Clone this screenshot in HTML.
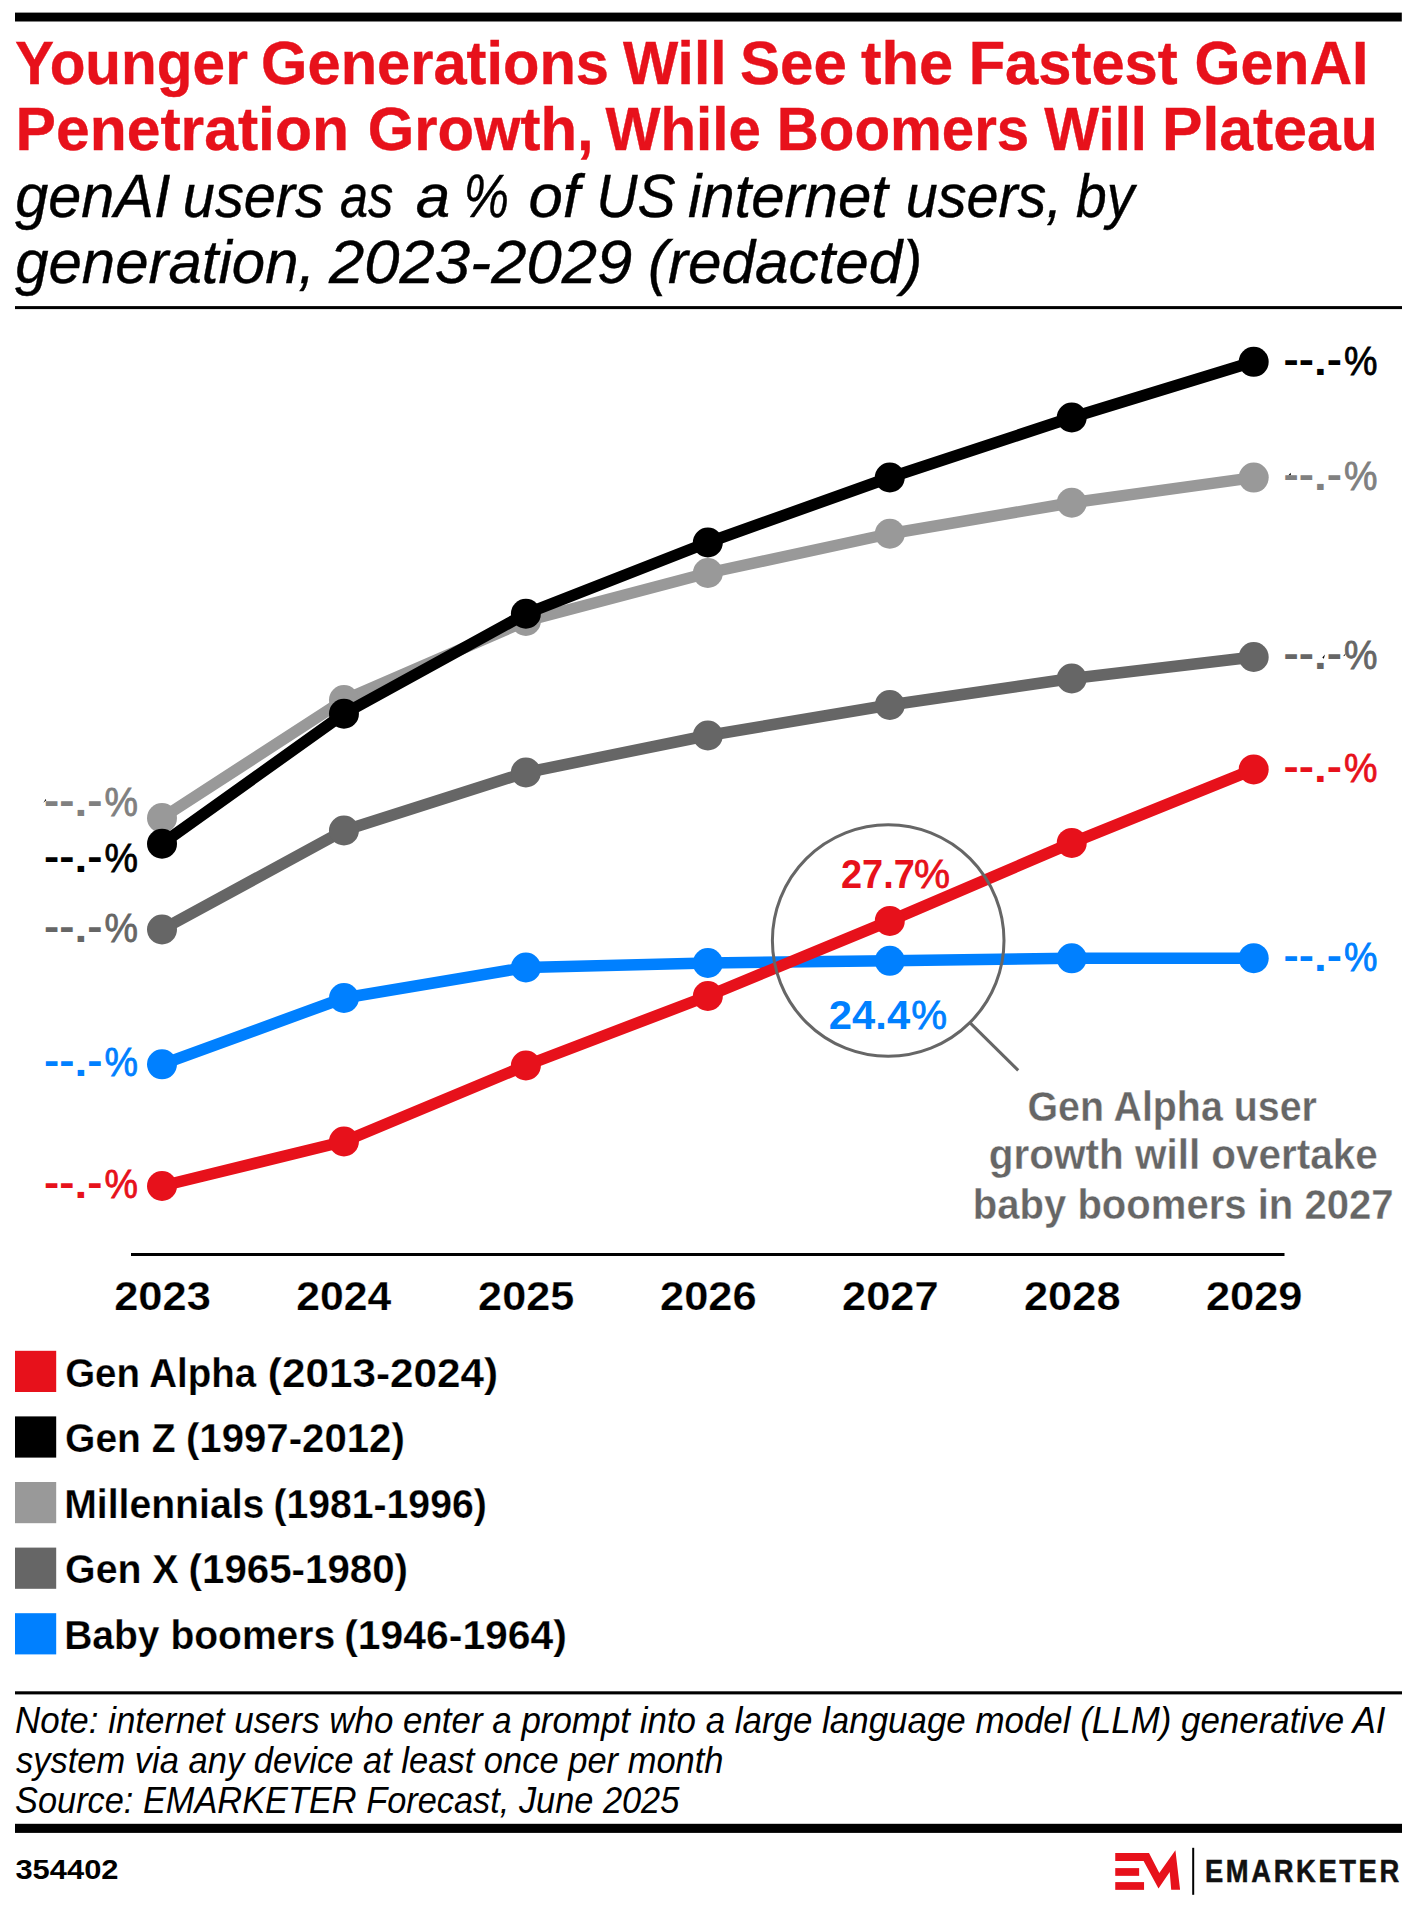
<!DOCTYPE html>
<html lang="en"><head><meta charset="utf-8"><title>Younger Generations Will See the Fastest GenAI Penetration Growth</title>
<style>
html,body{margin:0;padding:0;background:#fff;}
body{width:1416px;height:1909px;overflow:hidden;}
svg{display:block;font-family:"Liberation Sans", sans-serif;}
text{white-space:pre;}
</style></head><body>
<svg width="1416" height="1909" viewBox="0 0 1416 1909">
<rect width="1416" height="1909" fill="#fff"/>
<rect x="15" y="12.6" width="1386.8" height="8.9" fill="#000"/>
<rect x="15" y="306.1" width="1387" height="3" fill="#000"/>
<polyline points="162.00,1064.30 343.95,998.00 525.90,967.50 707.85,963.00 889.80,960.80 1071.75,958.30 1253.70,958.20" fill="none" stroke="#0080FF" stroke-width="11.5" stroke-linejoin="round" stroke-linecap="round"/>
<circle cx="162.00" cy="1064.30" r="15" fill="#0080FF"/>
<circle cx="343.95" cy="998.00" r="15" fill="#0080FF"/>
<circle cx="525.90" cy="967.50" r="15" fill="#0080FF"/>
<circle cx="707.85" cy="963.00" r="15" fill="#0080FF"/>
<circle cx="889.80" cy="960.80" r="15" fill="#0080FF"/>
<circle cx="1071.75" cy="958.30" r="15" fill="#0080FF"/>
<circle cx="1253.70" cy="958.20" r="15" fill="#0080FF"/>
<polyline points="162.00,929.50 343.95,830.50 525.90,772.50 707.85,735.50 889.80,705.00 1071.75,678.50 1253.70,657.00" fill="none" stroke="#666666" stroke-width="11.5" stroke-linejoin="round" stroke-linecap="round"/>
<circle cx="162.00" cy="929.50" r="15" fill="#666666"/>
<circle cx="343.95" cy="830.50" r="15" fill="#666666"/>
<circle cx="525.90" cy="772.50" r="15" fill="#666666"/>
<circle cx="707.85" cy="735.50" r="15" fill="#666666"/>
<circle cx="889.80" cy="705.00" r="15" fill="#666666"/>
<circle cx="1071.75" cy="678.50" r="15" fill="#666666"/>
<circle cx="1253.70" cy="657.00" r="15" fill="#666666"/>
<polyline points="162.00,818.00 343.95,700.00 525.90,621.00 707.85,573.00 889.80,533.75 1071.75,502.75 1253.70,477.60" fill="none" stroke="#999999" stroke-width="11.5" stroke-linejoin="round" stroke-linecap="round"/>
<circle cx="162.00" cy="818.00" r="15" fill="#999999"/>
<circle cx="343.95" cy="700.00" r="15" fill="#999999"/>
<circle cx="525.90" cy="621.00" r="15" fill="#999999"/>
<circle cx="707.85" cy="573.00" r="15" fill="#999999"/>
<circle cx="889.80" cy="533.75" r="15" fill="#999999"/>
<circle cx="1071.75" cy="502.75" r="15" fill="#999999"/>
<circle cx="1253.70" cy="477.60" r="15" fill="#999999"/>
<polyline points="162.00,843.75 343.95,713.75 525.90,613.75 707.85,542.50 889.80,477.50 1071.75,417.50 1253.70,361.80" fill="none" stroke="#000000" stroke-width="11.5" stroke-linejoin="round" stroke-linecap="round"/>
<circle cx="162.00" cy="843.75" r="15" fill="#000000"/>
<circle cx="343.95" cy="713.75" r="15" fill="#000000"/>
<circle cx="525.90" cy="613.75" r="15" fill="#000000"/>
<circle cx="707.85" cy="542.50" r="15" fill="#000000"/>
<circle cx="889.80" cy="477.50" r="15" fill="#000000"/>
<circle cx="1071.75" cy="417.50" r="15" fill="#000000"/>
<circle cx="1253.70" cy="361.80" r="15" fill="#000000"/>
<polyline points="162.00,1186.00 343.95,1141.50 525.90,1065.50 707.85,996.00 889.80,920.90 1071.75,842.90 1253.70,769.40" fill="none" stroke="#E7111B" stroke-width="11.5" stroke-linejoin="round" stroke-linecap="round"/>
<circle cx="162.00" cy="1186.00" r="15" fill="#E7111B"/>
<circle cx="343.95" cy="1141.50" r="15" fill="#E7111B"/>
<circle cx="525.90" cy="1065.50" r="15" fill="#E7111B"/>
<circle cx="707.85" cy="996.00" r="15" fill="#E7111B"/>
<circle cx="889.80" cy="920.90" r="15" fill="#E7111B"/>
<circle cx="1071.75" cy="842.90" r="15" fill="#E7111B"/>
<circle cx="1253.70" cy="769.40" r="15" fill="#E7111B"/>
<circle cx="888.2" cy="940.5" r="115.8" fill="none" stroke="#666" stroke-width="3"/>
<line x1="969.6" y1="1022.4" x2="1018.2" y2="1070.4" stroke="#666" stroke-width="3"/>
<rect x="131" y="1253" width="1153.5" height="3" fill="#000"/>
<rect x="15" y="1350.8" width="41.2" height="41.2" fill="#E7111B"/>
<rect x="15" y="1416.4" width="41.2" height="41.2" fill="#000000"/>
<rect x="15" y="1482.0" width="41.2" height="41.2" fill="#999999"/>
<rect x="15" y="1547.6" width="41.2" height="41.2" fill="#666666"/>
<rect x="15" y="1613.2" width="41.2" height="41.2" fill="#0080FF"/>
<rect x="15" y="1691.3" width="1387" height="3.1" fill="#000"/>
<rect x="15" y="1823.8" width="1387" height="9.1" fill="#000"/>
<path d="M1115.25 1853.1H1149L1159.3 1873L1175.4 1850.2L1180.1 1889.8H1171.2L1169.7 1872L1158.5 1888.5L1143.6 1861H1115.25Z" fill="#E7111B"/>
<rect x="1115.25" y="1868.1" width="23.9" height="7.75" fill="#E7111B"/>
<rect x="1115.25" y="1882.1" width="28.8" height="7.75" fill="#E7111B"/>
<rect x="1192.2" y="1847.8" width="2" height="47" fill="#000"/>
<path d="M1322.3 657.6L1325 654.4L1323.8 658.8Z" fill="#000"/>
<path d="M1343 656.3L1346.2 652.7L1345 655.6Z" fill="#000"/>
<path d="M1288.3 475.6L1290.6 472.8L1290.9 475.2Z" fill="#000"/>
<path d="M43.4 802.8L45.6 798.9L46.3 800.2Z" fill="#000"/>
<path d="M1345.2 954L1348.4 957.6L1346.8 958.2Z" fill="#000"/>
<text font-size="40.3" fill="#000"><tspan x="65.14" y="1386.60" textLength="201.72" lengthAdjust="spacingAndGlyphs" font-weight="bold" stroke="#fff" stroke-width="0.25">Gen Alpha </tspan><tspan x="267.88" y="1386.60" textLength="230.11" lengthAdjust="spacingAndGlyphs" font-weight="bold" stroke="#fff" stroke-width="0.25">(2013-2024)</tspan></text>
<text font-size="40.3" fill="#000"><tspan x="65.12" y="1452.20" textLength="121.30" lengthAdjust="spacingAndGlyphs" font-weight="bold" stroke="#fff" stroke-width="0.25">Gen Z </tspan><tspan x="185.98" y="1452.20" textLength="218.80" lengthAdjust="spacingAndGlyphs" font-weight="bold" stroke="#fff" stroke-width="0.25">(1997-2012)</tspan></text>
<text font-size="40.3" fill="#000"><tspan x="64.14" y="1517.80" textLength="211.14" lengthAdjust="spacingAndGlyphs" font-weight="bold" stroke="#fff" stroke-width="0.25">Millennials </tspan><tspan x="273.43" y="1517.80" textLength="213.30" lengthAdjust="spacingAndGlyphs" font-weight="bold" stroke="#fff" stroke-width="0.25">(1981-1996)</tspan></text>
<text font-size="40.3" fill="#000"><tspan x="65.11" y="1583.40" textLength="124.35" lengthAdjust="spacingAndGlyphs" font-weight="bold" stroke="#fff" stroke-width="0.25">Gen X </tspan><tspan x="188.58" y="1583.40" textLength="219.41" lengthAdjust="spacingAndGlyphs" font-weight="bold" stroke="#fff" stroke-width="0.25">(1965-1980)</tspan></text>
<text font-size="40.3" fill="#000"><tspan x="64.15" y="1649.00" textLength="281.90" lengthAdjust="spacingAndGlyphs" font-weight="bold" stroke="#fff" stroke-width="0.25">Baby boomers </tspan><tspan x="344.25" y="1649.00" textLength="222.67" lengthAdjust="spacingAndGlyphs" font-weight="bold" stroke="#fff" stroke-width="0.25">(1946-1964)</tspan></text>
<text font-size="62" fill="#E7111B"><tspan x="14.96" y="84.20" textLength="249.20" lengthAdjust="spacingAndGlyphs" font-weight="bold" stroke="#E7111B" stroke-width="0.4">Younger </tspan><tspan x="261.10" y="84.20" textLength="364.46" lengthAdjust="spacingAndGlyphs" font-weight="bold" stroke="#E7111B" stroke-width="0.4">Generations </tspan><tspan x="622.90" y="84.20" textLength="119.79" lengthAdjust="spacingAndGlyphs" font-weight="bold" stroke="#E7111B" stroke-width="0.4">Will </tspan><tspan x="740.05" y="84.20" textLength="123.49" lengthAdjust="spacingAndGlyphs" font-weight="bold" stroke="#E7111B" stroke-width="0.4">See </tspan><tspan x="861.00" y="84.20" textLength="109.14" lengthAdjust="spacingAndGlyphs" font-weight="bold" stroke="#E7111B" stroke-width="0.4">the </tspan><tspan x="968.65" y="84.20" textLength="225.62" lengthAdjust="spacingAndGlyphs" font-weight="bold" stroke="#E7111B" stroke-width="0.4">Fastest </tspan><tspan x="1194.52" y="84.20" textLength="173.98" lengthAdjust="spacingAndGlyphs" font-weight="bold" stroke="#E7111B" stroke-width="0.4">GenAI</tspan></text>
<text font-size="62" fill="#E7111B"><tspan x="15.59" y="150.20" textLength="350.24" lengthAdjust="spacingAndGlyphs" font-weight="bold" stroke="#E7111B" stroke-width="0.4">Penetration </tspan><tspan x="367.79" y="150.20" textLength="242.49" lengthAdjust="spacingAndGlyphs" font-weight="bold" stroke="#E7111B" stroke-width="0.4">Growth, </tspan><tspan x="605.50" y="150.20" textLength="171.51" lengthAdjust="spacingAndGlyphs" font-weight="bold" stroke="#E7111B" stroke-width="0.4">While </tspan><tspan x="776.74" y="150.20" textLength="268.65" lengthAdjust="spacingAndGlyphs" font-weight="bold" stroke="#E7111B" stroke-width="0.4">Boomers </tspan><tspan x="1044.20" y="150.20" textLength="118.95" lengthAdjust="spacingAndGlyphs" font-weight="bold" stroke="#E7111B" stroke-width="0.4">Will </tspan><tspan x="1161.99" y="150.20" textLength="215.77" lengthAdjust="spacingAndGlyphs" font-weight="bold" stroke="#E7111B" stroke-width="0.4">Plateau</tspan></text>
<text font-size="61.5" font-style="italic" fill="#000"><tspan x="15.20" y="217.20" textLength="171.81" lengthAdjust="spacingAndGlyphs" font-weight="normal" stroke="#000" stroke-width="0.4">genAI </tspan><tspan x="182.86" y="217.20" textLength="156.97" lengthAdjust="spacingAndGlyphs" font-weight="normal" stroke="#000" stroke-width="0.4">users </tspan><tspan x="340.08" y="217.20" textLength="67.20" lengthAdjust="spacingAndGlyphs" font-weight="normal" stroke="#000" stroke-width="0.4">as </tspan><tspan x="415.89" y="217.20" textLength="51.63" lengthAdjust="spacingAndGlyphs" font-weight="normal" stroke="#000" stroke-width="0.4">a </tspan><tspan x="463.57" y="217.20" textLength="59.67" lengthAdjust="spacingAndGlyphs" font-weight="normal" stroke="#000" stroke-width="0.4">% </tspan><tspan x="528.50" y="217.20" textLength="68.52" lengthAdjust="spacingAndGlyphs" font-weight="normal" stroke="#000" stroke-width="0.4">of </tspan><tspan x="596.33" y="217.20" textLength="95.02" lengthAdjust="spacingAndGlyphs" font-weight="normal" stroke="#000" stroke-width="0.4">US </tspan><tspan x="687.92" y="217.20" textLength="216.73" lengthAdjust="spacingAndGlyphs" font-weight="normal" stroke="#000" stroke-width="0.4">internet </tspan><tspan x="905.66" y="217.20" textLength="172.65" lengthAdjust="spacingAndGlyphs" font-weight="normal" stroke="#000" stroke-width="0.4">users, </tspan><tspan x="1076.00" y="217.20" textLength="58.28" lengthAdjust="spacingAndGlyphs" font-weight="normal" stroke="#000" stroke-width="0.4">by</tspan></text>
<text font-size="61.5" font-style="italic" fill="#000"><tspan x="15.20" y="282.80" textLength="316.61" lengthAdjust="spacingAndGlyphs" font-weight="normal" stroke="#000" stroke-width="0.4">generation, </tspan><tspan x="329.02" y="282.80" textLength="320.85" lengthAdjust="spacingAndGlyphs" font-weight="normal" stroke="#000" stroke-width="0.4">2023-2029 </tspan><tspan x="648.05" y="282.80" textLength="274.17" lengthAdjust="spacingAndGlyphs" font-weight="normal" stroke="#000" stroke-width="0.4">(redacted)</tspan></text>
<text x="114.22" y="1310.20" textLength="96.55" lengthAdjust="spacingAndGlyphs" font-size="41.3" font-weight="bold" stroke="#fff" stroke-width="0.25" fill="#000">2023</text>
<text x="296.19" y="1310.20" textLength="94.95" lengthAdjust="spacingAndGlyphs" font-size="41.3" font-weight="bold" stroke="#fff" stroke-width="0.25" fill="#000">2024</text>
<text x="478.13" y="1310.20" textLength="96.01" lengthAdjust="spacingAndGlyphs" font-size="41.3" font-weight="bold" stroke="#fff" stroke-width="0.25" fill="#000">2025</text>
<text x="660.07" y="1310.20" textLength="96.55" lengthAdjust="spacingAndGlyphs" font-size="41.3" font-weight="bold" stroke="#fff" stroke-width="0.25" fill="#000">2026</text>
<text x="842.02" y="1310.20" textLength="96.55" lengthAdjust="spacingAndGlyphs" font-size="41.3" font-weight="bold" stroke="#fff" stroke-width="0.25" fill="#000">2027</text>
<text x="1023.97" y="1310.20" textLength="96.55" lengthAdjust="spacingAndGlyphs" font-size="41.3" font-weight="bold" stroke="#fff" stroke-width="0.25" fill="#000">2028</text>
<text x="1205.92" y="1310.20" textLength="96.55" lengthAdjust="spacingAndGlyphs" font-size="41.3" font-weight="bold" stroke="#fff" stroke-width="0.25" fill="#000">2029</text>
<text font-size="40.5" fill="#808080"><tspan x="44.10" y="813.50" textLength="58.47" lengthAdjust="spacingAndGlyphs" dy="0 0 2 -2" font-weight="bold">--.-</tspan><tspan x="104.57" y="815.50" textLength="33.47" lengthAdjust="spacingAndGlyphs" font-weight="normal" stroke="#808080" stroke-width="0.8">%</tspan></text>
<text font-size="40.5" fill="#000000"><tspan x="44.10" y="869.50" textLength="58.47" lengthAdjust="spacingAndGlyphs" dy="0 0 2 -2" font-weight="bold">--.-</tspan><tspan x="104.57" y="871.50" textLength="33.47" lengthAdjust="spacingAndGlyphs" font-weight="normal" stroke="#000000" stroke-width="0.8">%</tspan></text>
<text font-size="40.5" fill="#666666"><tspan x="44.10" y="939.80" textLength="58.47" lengthAdjust="spacingAndGlyphs" dy="0 0 2 -2" font-weight="bold">--.-</tspan><tspan x="104.57" y="941.80" textLength="33.47" lengthAdjust="spacingAndGlyphs" font-weight="normal" stroke="#666666" stroke-width="0.8">%</tspan></text>
<text font-size="40.5" fill="#0080FF"><tspan x="44.10" y="1074.40" textLength="58.47" lengthAdjust="spacingAndGlyphs" dy="0 0 2 -2" font-weight="bold">--.-</tspan><tspan x="104.57" y="1076.40" textLength="33.47" lengthAdjust="spacingAndGlyphs" font-weight="normal" stroke="#0080FF" stroke-width="0.8">%</tspan></text>
<text font-size="40.5" fill="#E7111B"><tspan x="44.10" y="1196.20" textLength="58.47" lengthAdjust="spacingAndGlyphs" dy="0 0 2 -2" font-weight="bold">--.-</tspan><tspan x="104.57" y="1198.20" textLength="33.47" lengthAdjust="spacingAndGlyphs" font-weight="normal" stroke="#E7111B" stroke-width="0.8">%</tspan></text>
<text font-size="40.5" fill="#000000"><tspan x="1283.60" y="372.50" textLength="58.47" lengthAdjust="spacingAndGlyphs" dy="0 0 2 -2" font-weight="bold">--.-</tspan><tspan x="1344.07" y="374.50" textLength="33.47" lengthAdjust="spacingAndGlyphs" font-weight="normal" stroke="#000000" stroke-width="0.8">%</tspan></text>
<text font-size="40.5" fill="#808080"><tspan x="1283.60" y="488.00" textLength="58.47" lengthAdjust="spacingAndGlyphs" dy="0 0 2 -2" font-weight="bold">--.-</tspan><tspan x="1344.07" y="490.00" textLength="33.47" lengthAdjust="spacingAndGlyphs" font-weight="normal" stroke="#808080" stroke-width="0.8">%</tspan></text>
<text font-size="40.5" fill="#666666"><tspan x="1283.60" y="667.30" textLength="58.47" lengthAdjust="spacingAndGlyphs" dy="0 0 2 -2" font-weight="bold">--.-</tspan><tspan x="1344.07" y="669.30" textLength="33.47" lengthAdjust="spacingAndGlyphs" font-weight="normal" stroke="#666666" stroke-width="0.8">%</tspan></text>
<text font-size="40.5" fill="#E7111B"><tspan x="1283.60" y="779.70" textLength="58.47" lengthAdjust="spacingAndGlyphs" dy="0 0 2 -2" font-weight="bold">--.-</tspan><tspan x="1344.07" y="781.70" textLength="33.47" lengthAdjust="spacingAndGlyphs" font-weight="normal" stroke="#E7111B" stroke-width="0.8">%</tspan></text>
<text font-size="40.5" fill="#0080FF"><tspan x="1283.60" y="968.50" textLength="58.47" lengthAdjust="spacingAndGlyphs" dy="0 0 2 -2" font-weight="bold">--.-</tspan><tspan x="1344.07" y="970.50" textLength="33.47" lengthAdjust="spacingAndGlyphs" font-weight="normal" stroke="#0080FF" stroke-width="0.8">%</tspan></text>
<text font-size="41" fill="#E7111B"><tspan x="840.98" y="887.60" textLength="73.80" lengthAdjust="spacingAndGlyphs" font-weight="bold">27.7</tspan><tspan x="913.92" y="887.60" textLength="36.03" lengthAdjust="spacingAndGlyphs" font-weight="normal" stroke="#E7111B" stroke-width="0.8">%</tspan></text>
<text font-size="41" fill="#0080FF"><tspan x="828.88" y="1028.80" textLength="81.33" lengthAdjust="spacingAndGlyphs" font-weight="bold">24.4</tspan><tspan x="911.23" y="1028.80" textLength="35.82" lengthAdjust="spacingAndGlyphs" font-weight="normal" stroke="#0080FF" stroke-width="0.8">%</tspan></text>
<text x="1027.44" y="1120.50" textLength="289.44" lengthAdjust="spacingAndGlyphs" font-size="42.6" font-weight="bold" stroke="#fff" stroke-width="0.35" fill="#666">Gen Alpha user</text>
<text x="988.80" y="1169.20" textLength="389.07" lengthAdjust="spacingAndGlyphs" font-size="42.6" font-weight="bold" stroke="#fff" stroke-width="0.35" fill="#666">growth will overtake</text>
<text x="972.77" y="1218.70" textLength="420.82" lengthAdjust="spacingAndGlyphs" font-size="42.6" font-weight="bold" stroke="#fff" stroke-width="0.35" fill="#666">baby boomers in 2027</text>
<text x="15.03" y="1732.90" textLength="1370.42" lengthAdjust="spacingAndGlyphs" font-size="36" font-weight="normal" font-style="italic" fill="#000">Note: internet users who enter a prompt into a large language model (LLM) generative AI</text>
<text x="16.00" y="1772.70" textLength="707.52" lengthAdjust="spacingAndGlyphs" font-size="36" font-weight="normal" font-style="italic" fill="#000">system via any device at least once per month</text>
<text x="15.05" y="1812.60" textLength="664.28" lengthAdjust="spacingAndGlyphs" font-size="36" font-weight="normal" font-style="italic" fill="#000">Source: EMARKETER Forecast, June 2025</text>
<text x="15.45" y="1878.90" textLength="103.09" lengthAdjust="spacingAndGlyphs" font-size="28" font-weight="bold" fill="#000">354402</text>
<text x="1204.99" y="1882.20" textLength="196.85" lengthAdjust="spacingAndGlyphs" font-size="31" font-weight="bold" letter-spacing="3" stroke="#111" stroke-width="0.5" fill="#111">EMARKETER</text>
</svg>
</body></html>
